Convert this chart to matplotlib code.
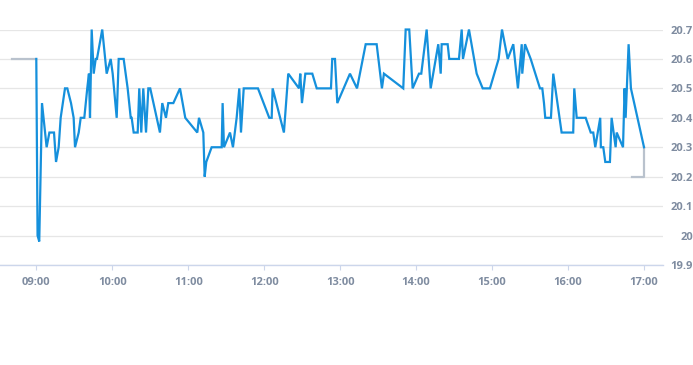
import matplotlib
matplotlib.use("Agg")
import matplotlib.pyplot as plt
import matplotlib.dates as mdates
import pandas as pd

DAY = "2024-01-02 "

price_times = [
    "09:00:00", "09:01:00", "09:02:20", "09:04:30", "09:08:10", "09:10:20", "09:14:00", "09:15:35",
    "09:17:40", "09:19:15", "09:22:40", "09:24:30", "09:27:25", "09:29:30", "09:30:35", "09:33:30",
    "09:35:05", "09:37:55", "09:40:15", "09:41:35", "09:42:25", "09:43:45", "09:45:20", "09:46:55",
    "09:47:55", "09:52:05", "09:55:35", "09:58:45", "10:00:20", "10:03:30", "10:05:05", "10:09:00",
    "10:12:10", "10:14:35", "10:15:20", "10:16:55", "10:20:05", "10:21:20", "10:22:55", "10:24:30",
    "10:26:40", "10:28:30", "10:30:00", "10:37:40", "10:39:30", "10:42:25", "10:44:15", "10:48:15",
    "10:53:30", "10:57:40", "11:07:10", "11:08:30", "11:11:55", "11:13:00", "11:14:15", "11:18:30",
    "11:26:25", "11:27:10", "11:28:15", "11:33:00", "11:35:20", "11:38:15", "11:40:20", "11:41:40",
    "11:43:50", "11:55:05", "12:04:00", "12:05:55", "12:06:40", "12:15:35", "12:19:00", "12:27:30",
    "12:28:30", "12:29:50", "12:32:30", "12:38:00", "12:41:30", "12:52:45", "12:53:45", "12:55:55",
    "12:57:45", "13:07:45", "13:13:20", "13:20:10", "13:28:50", "13:33:00", "13:34:35", "13:49:50",
    "13:51:45", "13:54:35", "13:57:15", "14:02:15", "14:04:05", "14:08:20", "14:11:30", "14:17:30",
    "14:19:25", "14:20:10", "14:24:55", "14:26:10", "14:33:50", "14:36:00", "14:37:00", "14:41:45",
    "14:47:50", "14:52:35", "14:58:20", "15:05:10", "15:07:50", "15:12:20", "15:16:45", "15:20:25",
    "15:23:25", "15:23:50", "15:26:00", "15:30:30", "15:37:50", "15:39:40", "15:41:00", "15:42:00",
    "15:46:30", "15:48:20", "15:54:55", "16:04:05", "16:04:55", "16:06:50", "16:13:55", "16:17:55",
    "16:19:55", "16:21:30", "16:25:25", "16:25:55", "16:27:50", "16:29:25", "16:33:05", "16:34:25",
    "16:37:35", "16:38:25", "16:43:25", "16:44:40", "16:45:30", "16:47:50", "16:49:40", "17:00:00",
]
price_values = [
    20.60, 20.00, 19.98, 20.45, 20.30, 20.35, 20.35, 20.25,
    20.30, 20.40, 20.50, 20.50, 20.45, 20.40, 20.30, 20.35,
    20.40, 20.40, 20.50, 20.55, 20.40, 20.70, 20.55, 20.60,
    20.60, 20.70, 20.55, 20.60, 20.55, 20.40, 20.60, 20.60,
    20.50, 20.40, 20.40, 20.35, 20.35, 20.50, 20.35, 20.50,
    20.35, 20.50, 20.50, 20.35, 20.45, 20.40, 20.45, 20.45,
    20.50, 20.40, 20.35, 20.40, 20.35, 20.20, 20.25, 20.30,
    20.30, 20.45, 20.30, 20.35, 20.30, 20.40, 20.50, 20.35,
    20.50, 20.50, 20.40, 20.40, 20.50, 20.35, 20.55, 20.50,
    20.55, 20.45, 20.55, 20.55, 20.50, 20.50, 20.60, 20.60,
    20.45, 20.55, 20.50, 20.65, 20.65, 20.50, 20.55, 20.50,
    20.70, 20.70, 20.50, 20.55, 20.55, 20.70, 20.50, 20.65,
    20.55, 20.65, 20.65, 20.60, 20.60, 20.70, 20.60, 20.70,
    20.55, 20.50, 20.50, 20.60, 20.70, 20.60, 20.65, 20.50,
    20.65, 20.55, 20.65, 20.60, 20.50, 20.50, 20.45, 20.40,
    20.40, 20.55, 20.35, 20.35, 20.50, 20.40, 20.40, 20.35,
    20.35, 20.30, 20.40, 20.30, 20.30, 20.25, 20.25, 20.40,
    20.30, 20.35, 20.30, 20.50, 20.40, 20.65, 20.50, 20.30,
]

# grey reference segments (pre-open and closing)
pre_times = ["08:40:50", "09:00:00"]
pre_values = [20.60, 20.60]
close_times = ["16:50:10", "17:00:00", "17:00:00"]
close_values = [20.20, 20.20, 20.30]

y_ticks = [19.9, 20.0, 20.1, 20.2, 20.3, 20.4, 20.5, 20.6, 20.7]
x_tick_labels = ["09:00", "10:00", "11:00", "12:00", "13:00", "14:00", "15:00", "16:00", "17:00"]
x_start, x_end = "08:31:20", "17:15:00"


def to_dt(lst):
    return pd.to_datetime([DAY + t for t in lst])


W, H = 693, 365
fig = plt.figure(figsize=(W / 100, H / 100), dpi=100)
ax = fig.add_axes([0, 1 - 265 / H, 663 / W, (265 - 29.5) / H])

grid_c = "#e6e6e6"
label_c = "#7f8ca0"
blue = "#1590dc"
grey = "#b9c2cd"

ax.plot(to_dt(pre_times), pre_values, color=grey, lw=1.6, clip_on=False, zorder=3)
ax.plot(to_dt(close_times), close_values, color=grey, lw=1.6, clip_on=False, zorder=3)
ax.plot(to_dt(price_times), price_values, color=blue, lw=1.6, clip_on=False, zorder=4,
        solid_joinstyle="miter")

ax.set_xlim(pd.Timestamp(DAY + x_start), pd.Timestamp(DAY + x_end))
ax.set_ylim(y_ticks[0], y_ticks[-1])

for s in ax.spines.values():
    s.set_visible(False)
ax.spines["bottom"].set_visible(True)
ax.spines["bottom"].set_color("#ccd6eb")
ax.spines["bottom"].set_linewidth(1.0)

ax.set_yticks(y_ticks)
ax.set_yticklabels([f"{v:g}" for v in y_ticks])
ax.yaxis.tick_right()
ax.tick_params(axis="y", length=0, pad=21.5, labelsize=8, labelcolor=label_c)
for lab in ax.get_yticklabels():
    lab.set_horizontalalignment("right")
    lab.set_fontfamily("Open Sans")
    lab.set_fontweight("bold")
ax.grid(axis="y", color=grid_c, lw=0.9)
ax.set_axisbelow(True)

ax.set_xticks(to_dt(x_tick_labels))
ax.set_xticklabels(x_tick_labels)
ax.tick_params(axis="x", length=3.5, width=0.8, color="#ccd6eb", pad=5,
               labelsize=8, labelcolor=label_c)
for lab in ax.get_xticklabels():
    lab.set_fontfamily("Open Sans")
    lab.set_fontweight("bold")

fig.savefig("out.png", dpi=100)
